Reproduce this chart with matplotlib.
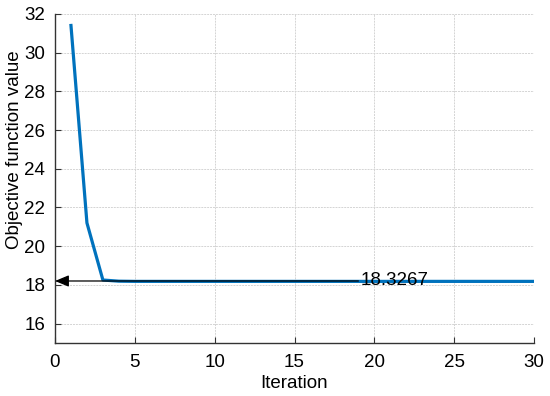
import numpy as np
import matplotlib.pyplot as plt

plt.rcParams.update({
    "font.family": "Liberation Sans",
    "font.size": 13.5,
})

# convergence curve
iteration = np.arange(1, 31)
objective = [31.4, 21.2, 18.25, 18.19] + [18.18] * 26
best_label = "18.3267"
best_value = 18.2
arrow_from = 19.0

fig = plt.figure(figsize=(5.5, 3.96), dpi=100)
ax = fig.add_axes([0.1, 0.134, 0.871, 0.831])

ax.plot(iteration, objective, color="#0072bd", linewidth=2.3, zorder=3)

ax.annotate("", xy=(0, best_value), xytext=(arrow_from, best_value),
            arrowprops=dict(arrowstyle="-|>,head_length=0.6,head_width=0.25",
                            color="black", lw=0.9,
                            mutation_scale=14, shrinkA=0, shrinkB=0),
            zorder=4)
ax.text(arrow_from + 0.15, best_value, best_label, fontsize=13.5,
        va="center", ha="left", zorder=5)

ax.set_xlim(0, 30)
ax.set_ylim(15, 32)
ax.set_xticks(np.arange(0, 31, 5))
ax.set_yticks(np.arange(16, 33, 2))
ax.set_xlabel("Iteration", labelpad=3)
ax.set_ylabel("Objective function value")
ax.yaxis.set_label_coords(-0.066, 0.587)

ax.grid(True, color="#d4d4d4", linewidth=0.7, linestyle=(0, (2, 1)))
ax.set_axisbelow(True)
ax.spines["top"].set_visible(False)
ax.spines["right"].set_visible(False)
for s in ("left", "bottom"):
    ax.spines[s].set_color("#333333")
    ax.spines[s].set_linewidth(1.0)
ax.tick_params(direction="in", length=4, colors="#333333", labelcolor="black")
ax.tick_params(axis="x", pad=8)
ax.tick_params(axis="y", pad=7)

fig.savefig("out.png", dpi=100)
